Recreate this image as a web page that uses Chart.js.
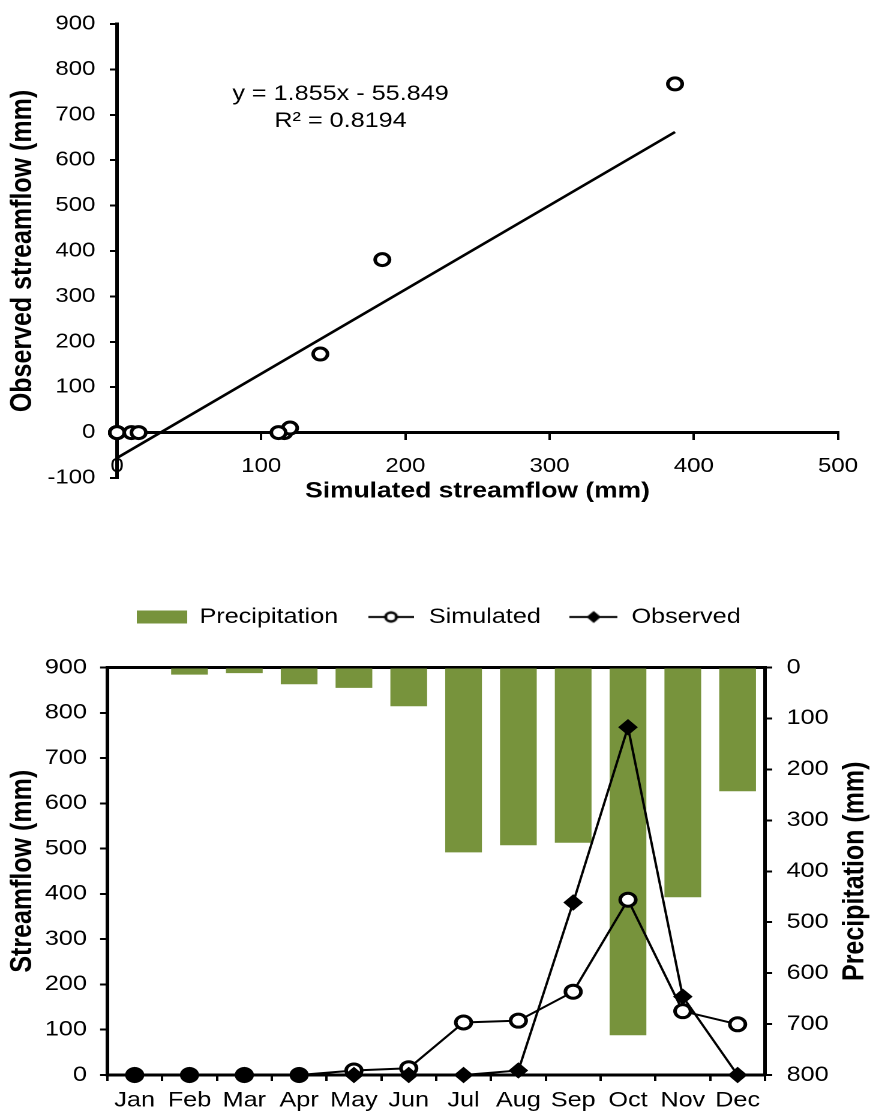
<!DOCTYPE html>
<html>
<head>
<meta charset="utf-8">
<title>Simulated vs observed streamflow</title>
<script src="https://cdn.jsdelivr.net/npm/chart.js@4.4.1/dist/chart.umd.min.js"></script>
<style>
  html, body { margin: 0; padding: 0; background: #fff; }
  /* the source figure is stretched sideways, so the canvases are too */
  .panel { width: 731px; transform: scaleX(1.2); transform-origin: 0 0; }
  canvas { display: block; }
</style>
</head>
<body>
<div class="panel"><canvas id="scatter" width="731" height="520"></canvas></div>
<div class="panel"><canvas id="monthly" width="731" height="595"></canvas></div>
<script>
const months = ['Jan', 'Feb', 'Mar', 'Apr', 'May', 'Jun', 'Jul', 'Aug', 'Sep', 'Oct', 'Nov', 'Dec'];
const simulated = [0, 0, 0, 0, 10, 15, 116, 120, 184, 387, 141, 112];
const observed = [0, 0, 0, 0, 0, 0, 0, 10, 381, 768, 173, 0];
const precipitation = [2, 14, 11, 33, 40, 76, 363, 349, 344, 722, 451, 243];

// regression shown on the scatter
const trendSlope = 1.855;
const trendIntercept = -55.849;
const rSquared = 0.8194;

const FONT = "'Liberation Sans', Arial, sans-serif";
const GREEN = '#77933c';
Chart.defaults.font.family = FONT;
Chart.defaults.color = '#000';

// Scatter: simulated (x) against observed (y)
const pairs = simulated.map((s, i) => ({ x: s, y: observed[i] }));
const trendEnds = [0, Math.max(...simulated)];
const trendPoints = trendEnds.map(x => ({ x: x, y: trendSlope * x + trendIntercept }));

const equationLabel = {
    id: 'equationLabel',
    afterDatasetsDraw(chart) {
        const { ctx, scales } = chart;
        const px = scales.x.getPixelForValue(155);
        const py = scales.y.getPixelForValue(745);
        ctx.save();
        ctx.font = `21px ${FONT}`;
        ctx.fillStyle = '#000';
        ctx.textAlign = 'center';
        ctx.textBaseline = 'middle';
        ctx.fillText(`y = ${trendSlope}x - ${Math.abs(trendIntercept)}`, px, py);
        ctx.fillText(`R² = ${rSquared}`, px, py + 27);
        ctx.restore();
    }
};

new Chart(document.getElementById('scatter'), {
    type: 'scatter',
    data: {
        datasets: [{
            label: 'Trend',
            data: trendPoints,
            showLine: true,
            borderColor: '#000',
            borderWidth: 2.5,
            pointRadius: 0,
            order: 2
        }, {
            label: 'Months',
            data: pairs,
            pointRadius: 6,
            pointBorderWidth: 3,
            borderColor: '#000',
            pointBackgroundColor: '#fff',
            clip: false,
            order: 1
        }]
    },
    options: {
        responsive: false,
        devicePixelRatio: 2,
        animation: false,
        layout: { padding: { top: 20, right: 22, bottom: 42, left: 0 } },
        plugins: {
            legend: { display: false },
            tooltip: { enabled: false }
        },
        scales: {
            x: {
                type: 'linear',
                position: { y: 0 },
                min: 0,
                max: 500,
                afterFit: (scale) => { scale.height = 72; },
                ticks: { stepSize: 100, padding: 16, font: { size: 20 } },
                grid: { drawOnChartArea: false, tickLength: 6, color: '#000', lineWidth: 2 },
                border: { color: '#000', width: 3 },
                title: {
                    display: true,
                    text: 'Simulated streamflow (mm)',
                    font: { size: 22, weight: 'bold' },
                    padding: 0
                }
            },
            y: {
                min: -100,
                max: 900,
                afterFit: (scale) => { scale.width = 97.5; },
                ticks: { stepSize: 100, padding: 12, font: { size: 20 } },
                grid: { drawOnChartArea: false, tickLength: 6, color: '#000', lineWidth: 2 },
                border: { color: '#000', width: 3 },
                title: {
                    display: true,
                    text: 'Observed streamflow (mm)',
                    font: { size: 25, weight: 'bold' },
                    padding: { top: 4, bottom: 0 }
                }
            }
        }
    },
    plugins: [equationLabel]
});

// Monthly chart: legend icons
function makeIcon(w, h, draw) {
    const c = document.createElement('canvas');
    c.width = w;
    c.height = h;
    draw(c.getContext('2d'), w, h);
    return c;
}
const precipIcon = makeIcon(42, 13, (g, w, h) => {
    g.fillStyle = GREEN;
    g.fillRect(0, 0, w, h);
});
const simIcon = makeIcon(38, 14, (g, w, h) => {
    g.strokeStyle = '#000';
    g.lineWidth = 2;
    g.beginPath();
    g.moveTo(0, h / 2);
    g.lineTo(w, h / 2);
    g.stroke();
    g.beginPath();
    g.arc(w / 2, h / 2, 4.5, 0, Math.PI * 2);
    g.fillStyle = '#fff';
    g.fill();
    g.lineWidth = 2.5;
    g.stroke();
});
const obsIcon = makeIcon(40, 14, (g, w, h) => {
    g.strokeStyle = '#000';
    g.lineWidth = 2;
    g.beginPath();
    g.moveTo(0, h / 2);
    g.lineTo(w, h / 2);
    g.stroke();
    g.beginPath();
    g.moveTo(w / 2 - 6, h / 2);
    g.lineTo(w / 2, h / 2 - 6);
    g.lineTo(w / 2 + 6, h / 2);
    g.lineTo(w / 2, h / 2 + 6);
    g.closePath();
    g.fillStyle = '#000';
    g.fill();
});

// extra room between legend and plot
const legendGap = {
    id: 'legendGap',
    beforeInit(chart) {
        const fitLegend = chart.legend.fit;
        chart.legend.fit = function () {
            fitLegend.call(this);
            this.height += 30;
        };
    }
};

// right axis title reads bottom-to-top like the left one
const rightTitle = {
    id: 'rightTitle',
    afterDraw(chart) {
        const { ctx, chartArea } = chart;
        const s = chart.scales.y2;
        ctx.save();
        ctx.translate(s.right - 18.5, (chartArea.top + chartArea.bottom) / 2);
        ctx.rotate(-Math.PI / 2);
        ctx.font = `bold 25px ${FONT}`;
        ctx.fillStyle = '#000';
        ctx.textAlign = 'center';
        ctx.textBaseline = 'middle';
        ctx.fillText('Precipitation (mm)', 0, 0);
        ctx.restore();
    }
};

new Chart(document.getElementById('monthly'), {
    type: 'bar',
    data: {
        labels: months,
        datasets: [{
            label: 'Precipitation',
            data: precipitation,
            yAxisID: 'y2',
            backgroundColor: GREEN,
            barPercentage: 0.67,
            categoryPercentage: 1,
            order: 3
        }, {
            type: 'line',
            label: 'Simulated',
            data: simulated,
            yAxisID: 'y',
            borderColor: '#000',
            borderWidth: 2,
            pointRadius: 6.5,
            pointBorderWidth: 3,
            pointBackgroundColor: '#fff',
            clip: false,
            order: 2
        }, {
            type: 'line',
            label: 'Observed',
            data: observed,
            yAxisID: 'y',
            borderColor: '#000',
            borderWidth: 2,
            pointStyle: 'rectRot',
            pointRadius: 7.5,
            pointBorderWidth: 1,
            pointBackgroundColor: '#000',
            clip: false,
            order: 1
        }]
    },
    options: {
        responsive: false,
        devicePixelRatio: 2,
        animation: false,
        layout: { padding: { top: 63.5, right: 0, bottom: 2, left: 0 } },
        plugins: {
            tooltip: { enabled: false },
            legend: {
                position: 'top',
                labels: {
                    usePointStyle: true,
                    pointStyleWidth: 42,
                    padding: 23,
                    color: '#000',
                    font: { size: 21 },
                    generateLabels: () => [
                        { text: 'Precipitation', pointStyle: precipIcon, datasetIndex: 0 },
                        { text: 'Simulated', pointStyle: simIcon, datasetIndex: 1 },
                        { text: 'Observed', pointStyle: obsIcon, datasetIndex: 2 }
                    ].map(item => Object.assign(item, {
                        fontColor: '#000',
                        hidden: false,
                        lineWidth: 0,
                        fillStyle: 'transparent',
                        strokeStyle: 'transparent'
                    }))
                }
            }
        },
        scales: {
            x: {
                afterFit: (scale) => { scale.height = 38; },
                ticks: { padding: 7, font: { size: 21 } },
                grid: { drawOnChartArea: false, tickLength: 6, color: '#000', lineWidth: 2 },
                border: { color: '#000', width: 3 }
            },
            x2: {
                type: 'category',
                position: 'top',
                labels: months,
                ticks: { display: false },
                grid: { drawOnChartArea: false, drawTicks: false },
                border: { color: '#000', width: 3 }
            },
            y: {
                position: 'left',
                min: 0,
                max: 900,
                afterFit: (scale) => { scale.width = 89.4; },
                ticks: { stepSize: 100, padding: 11, font: { size: 21 } },
                grid: { drawOnChartArea: false, tickLength: 6, color: '#000', lineWidth: 2 },
                border: { color: '#000', width: 3 },
                title: {
                    display: true,
                    text: 'Streamflow (mm)',
                    font: { size: 25, weight: 'bold' },
                    padding: { top: 4, bottom: 0 }
                }
            },
            y2: {
                position: 'right',
                reverse: true,
                min: 0,
                max: 800,
                afterFit: (scale) => { scale.width = 93.5; },
                ticks: { stepSize: 100, padding: 12, font: { size: 21 } },
                grid: { drawOnChartArea: false, tickLength: 6, color: '#000', lineWidth: 2 },
                border: { color: '#000', width: 3 }
            }
        }
    },
    plugins: [legendGap, rightTitle]
});
</script>
</body>
</html>
